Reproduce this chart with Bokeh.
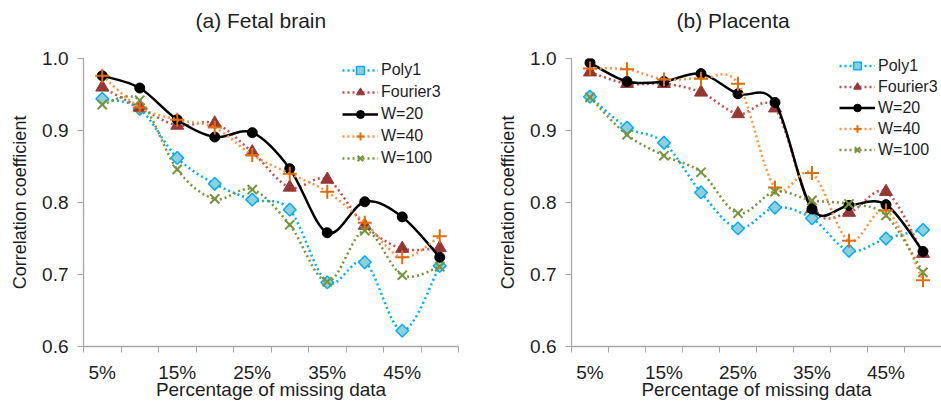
from bokeh.plotting import figure
from bokeh.layouts import row
from bokeh.models import (FixedTicker, NumeralTickFormatter, Range1d, Legend,
                          LegendItem, Title)
from bokeh.embed import file_html
from bokeh.resources import INLINE
import math

# ---------------- data ----------------
categories = ["5%", "10%", "15%", "20%", "25%", "30%", "35%", "40%", "45%", "50%"]
tick_labels = ["5%", "15%", "25%", "35%", "45%"]
y_ticks = [0.6, 0.7, 0.8, 0.9, 1.0]
series_names = ["Poly1", "Fourier3", "W=20", "W=40", "W=100"]

# (a) Fetal brain
poly1_a = [0.944, 0.930, 0.862, 0.826, 0.804, 0.790, 0.689, 0.717, 0.622, 0.712]
fourier3_a = [0.960, 0.932, 0.907, 0.910, 0.870, 0.821, 0.832, 0.768, 0.736, 0.737]
w20_a = [0.976, 0.959, 0.915, 0.891, 0.897, 0.847, 0.758, 0.801, 0.780, 0.724]
w40_a = [0.976, 0.932, 0.915, 0.904, 0.866, 0.840, 0.815, 0.772, 0.724, 0.753]
w100_a = [0.936, 0.942, 0.846, 0.805, 0.818, 0.769, 0.690, 0.761, 0.699, 0.711]

# (b) Placenta
poly1_b = [0.947, 0.904, 0.883, 0.814, 0.764, 0.793, 0.778, 0.733, 0.750, 0.762]
fourier3_b = [0.981, 0.965, 0.965, 0.953, 0.923, 0.931, 0.791, 0.786, 0.815, 0.729]
w20_b = [0.994, 0.968, 0.968, 0.979, 0.951, 0.939, 0.791, 0.796, 0.797, 0.732]
w40_b = [0.986, 0.985, 0.971, 0.972, 0.965, 0.821, 0.841, 0.747, 0.789, 0.692]
w100_b = [0.946, 0.894, 0.865, 0.842, 0.785, 0.815, 0.803, 0.798, 0.782, 0.703]

FONT = "Liberation Sans"
AXIS_GRAY = "#A6A6A6"
TEXT = "#1e1e1e"

styles = {
    "Poly1": dict(line_color="#00B0F0", dash="2 3", width=2.5,
                  marker="square", size=9, angle=math.pi / 4,
                  fill="#92CDDC", mline="#00B0F0", mlw=1.5),
    "Fourier3": dict(line_color="#C0504D", dash="2 3", width=2.5,
                     marker="triangle", size=13, angle=0,
                     fill="#953735", mline="#953735", mlw=1),
    "W=20": dict(line_color="#000000", dash="solid", width=2.5,
                 marker="circle", size=10, angle=0,
                 fill="#000000", mline="#000000", mlw=1),
    "W=40": dict(line_color="#F79646", dash="2 3", width=2.5,
                 marker="cross", size=14, angle=0,
                 fill=None, mline="#E46C0A", mlw=2),
    "W=100": dict(line_color="#77933C", dash="2 3", width=2.5,
                  marker="x", size=13, angle=0,
                  fill=None, mline="#77933C", mlw=2),
}


def bezier_parts(xs, ys):
    n = len(xs)
    out = dict(x0=[], y0=[], x1=[], y1=[], cx0=[], cy0=[], cx1=[], cy1=[])
    for i in range(n - 1):
        pm = i - 1 if i > 0 else i
        pp = i + 2 if i + 2 < n else i + 1
        out["x0"].append(xs[i]); out["y0"].append(ys[i])
        out["x1"].append(xs[i + 1]); out["y1"].append(ys[i + 1])
        out["cx0"].append(xs[i] + (xs[i + 1] - xs[pm]) / 6.0)
        out["cy0"].append(ys[i] + (ys[i + 1] - ys[pm]) / 6.0)
        out["cx1"].append(xs[i + 1] - (xs[pp] - xs[i]) / 6.0)
        out["cy1"].append(ys[i + 1] - (ys[pp] - ys[i]) / 6.0)
    return out


def make_panel(title, data, width, border_left, border_right,
               title_offset, legend_loc, legend_h, legend_spacing):
    p = figure(width=width, height=405, output_backend="svg",
               toolbar_location=None,
               x_range=Range1d(0.5, len(categories) + 0.5),
               y_range=Range1d(0.6, 1.0),
               min_border_left=border_left, min_border_right=border_right,
               min_border_top=58, min_border_bottom=59,
               background_fill_color="white", border_fill_color="white")
    p.outline_line_color = None
    p.xgrid.visible = False
    p.ygrid.visible = False

    # trailing line break lifts the title well above the plot frame
    p.add_layout(Title(text=title + "\n", align="left", offset=title_offset,
                       standoff=8, vertical_align="bottom",
                       text_font=FONT, text_font_size="21px",
                       text_font_style="normal", text_color=TEXT), "above")

    xs = [i + 1 for i in range(len(categories))]
    items = []
    for name, ys in zip(series_names, data):
        st = styles[name]
        bz = bezier_parts(xs, ys)
        r_line = p.bezier(x0=bz["x0"], y0=bz["y0"], x1=bz["x1"], y1=bz["y1"],
                          cx0=bz["cx0"], cy0=bz["cy0"], cx1=bz["cx1"],
                          cy1=bz["cy1"], line_color=st["line_color"],
                          line_width=st["width"], line_dash=st["dash"])
        kw = dict(marker=st["marker"], size=st["size"], angle=st["angle"],
                  line_color=st["mline"], line_width=st["mlw"])
        if st["fill"] is None:
            kw["fill_alpha"] = 0
        else:
            kw["fill_color"] = st["fill"]
        r_pts = p.scatter(xs, ys, **kw)
        items.append(LegendItem(label=name, renderers=[r_line, r_pts]))

    legend = Legend(items=items, location=legend_loc, padding=0, margin=0,
                    border_line_color=None, background_fill_alpha=0,
                    label_text_font=FONT, label_text_font_size="16px",
                    label_text_color=TEXT, glyph_width=36,
                    glyph_height=legend_h, label_height=legend_h,
                    spacing=legend_spacing, label_standoff=3)
    p.add_layout(legend, "center")

    # x axis: ticks between categories, labels on every other category
    xa = p.xaxis[0]
    label_pos = [categories.index(t) + 1 for t in tick_labels]
    xa.ticker = FixedTicker(ticks=label_pos,
                            minor_ticks=[i + 0.5 for i in range(len(categories) + 1)])
    xa.major_label_overrides = {pos: lab for pos, lab in zip(label_pos, tick_labels)}
    xa.major_tick_line_color = None
    xa.major_tick_out = 6
    xa.major_tick_in = 0
    xa.minor_tick_line_color = AXIS_GRAY
    xa.minor_tick_out = 6
    xa.minor_tick_in = 0
    xa.axis_line_color = AXIS_GRAY
    xa.axis_line_width = 1.3
    xa.major_label_text_font = FONT
    xa.major_label_text_font_size = "19px"
    xa.major_label_text_color = TEXT
    xa.major_label_standoff = 9
    xa.axis_label = "Percentage of missing data"
    xa.axis_label_text_font = FONT
    xa.axis_label_text_font_size = "19px"
    xa.axis_label_text_font_style = "normal"
    xa.axis_label_text_color = TEXT
    xa.axis_label_standoff = -7

    ya = p.yaxis[0]
    ya.ticker = FixedTicker(ticks=y_ticks, minor_ticks=[])
    ya.formatter = NumeralTickFormatter(format="0.0")
    ya.axis_line_color = AXIS_GRAY
    ya.axis_line_width = 1.3
    ya.major_tick_line_color = AXIS_GRAY
    ya.major_tick_out = 6
    ya.major_tick_in = 0
    ya.minor_tick_line_color = None
    ya.major_label_text_font = FONT
    ya.major_label_text_font_size = "19px"
    ya.major_label_text_color = TEXT
    ya.major_label_standoff = 9
    ya.axis_label = "Correlation coefficient"
    ya.axis_label_text_font = FONT
    ya.axis_label_text_font_size = "18px"
    ya.axis_label_text_font_style = "normal"
    ya.axis_label_text_color = TEXT
    ya.axis_label_standoff = 9
    return p


p1 = make_panel("(a) Fetal brain", [poly1_a, fourier3_a, w20_a, w40_a, w100_a],
                width=488, border_left=83, border_right=30,
                title_offset=112, legend_loc=(259, 178), legend_h=20,
                legend_spacing=2)
p2 = make_panel("(b) Placenta", [poly1_b, fourier3_b, w20_b, w40_b, w100_b],
                width=453, border_left=83, border_right=0,
                title_offset=105, legend_loc=(268, 187), legend_h=19,
                legend_spacing=2)

layout = row(p1, p2)
open("out.html", "w").write(file_html(layout, INLINE))
